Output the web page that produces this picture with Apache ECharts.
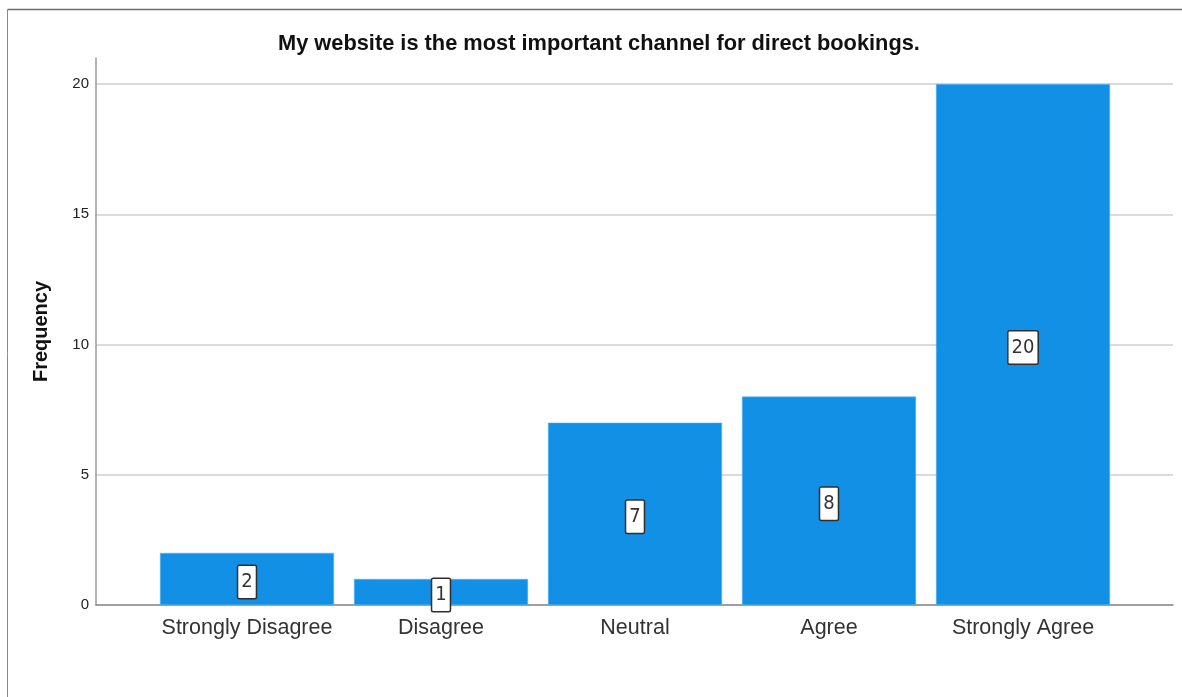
<!DOCTYPE html>
<html>
<head>
<meta charset="utf-8">
<script src="https://cdn.jsdelivr.net/npm/echarts@6/dist/echarts.min.js"></script>
<style>
  html, body { margin: 0; padding: 0; background: #fff; }
  #chart { width: 1182px; height: 697px; }
</style>
</head>
<body>
<div id="chart"></div>
<script>
// Survey responses
const chartTitle = 'My website is the most important channel for direct bookings.';
const categories = ['Strongly Disagree', 'Disagree', 'Neutral', 'Agree', 'Strongly Agree'];
const frequencies = [2, 1, 7, 8, 20];
const yTicks = [0, 5, 10, 15, 20];

const chart = echarts.init(document.getElementById('chart'), null, { renderer: 'canvas' });

const yMax = 21;
const yInterval = 5;

chart.setOption({
  animation: false,
  backgroundColor: '#ffffff',
  title: {
    text: chartTitle,
    left: 273,
    top: 28,
    textStyle: { fontFamily: 'Liberation Sans, Arial, sans-serif', fontSize: 21.8, fontWeight: 'bold', color: '#111' }
  },
  graphic: [
    { type: 'line', shape: { x1: 7.5, y1: 9.5, x2: 1182, y2: 9.5 }, style: { stroke: '#6e6e6e', lineWidth: 1.5 } },
    { type: 'line', shape: { x1: 7.5, y1: 9.5, x2: 7.5, y2: 697 }, style: { stroke: '#8a8a8a', lineWidth: 1 } }
  ],
  grid: [
    // frame grid: axis lines and gridlines across the full plot width
    { left: 96, right: 9, top: 58, bottom: 92 },
    // bar grid: category band inset from the frame
    { left: 150, width: 970, top: 58, bottom: 92 }
  ],
  xAxis: [
    {
      gridIndex: 0, type: 'value', min: 0, max: 1,
      axisLine: { show: true, lineStyle: { color: '#8c8c8c', width: 1.5 } },
      axisTick: { show: false }, axisLabel: { show: false }, splitLine: { show: false }
    },
    {
      gridIndex: 1, type: 'category', data: categories,
      axisLine: { show: false }, axisTick: { show: false },
      axisLabel: {
        interval: 0, margin: 12, fontSize: 21.5, color: '#333',
        fontFamily: 'Liberation Sans, Arial, sans-serif'
      }
    }
  ],
  yAxis: [
    {
      gridIndex: 0, type: 'value', min: 0, max: yMax, interval: yInterval,
      name: 'Frequency', nameLocation: 'middle', nameRotate: 90, nameGap: 45,
      nameTextStyle: { fontFamily: 'Liberation Sans, Arial, sans-serif', fontSize: 20, fontWeight: 'bold', color: '#111' },
      axisLine: { show: true, lineStyle: { color: '#9a9a9a', width: 1.5 } },
      axisTick: { show: false },
      axisLabel: {
        margin: 7, fontSize: 15, color: '#222', showMaxLabel: false,
        fontFamily: 'Liberation Sans, Arial, sans-serif',
        formatter: v => (yTicks.indexOf(v) >= 0 ? String(v) : '')
      },
      splitLine: { show: true, showMaxLine: false, lineStyle: { color: '#cfcfcf', width: 1.5 } }
    },
    {
      gridIndex: 1, type: 'value', min: 0, max: yMax, interval: yInterval,
      show: false, splitLine: { show: false }
    }
  ],
  series: [{
    type: 'bar',
    xAxisIndex: 1,
    yAxisIndex: 1,
    data: frequencies,
    barWidth: 174,
    itemStyle: { color: '#1290e6', borderColor: '#63b3ee', borderWidth: 0.5 },
    label: {
      show: true,
      position: 'inside',
      offset: [0, 3],
      fontFamily: 'Liberation Sans Narrow, DejaVu Sans Condensed, Arial Narrow, sans-serif',
      fontSize: 20,
      lineHeight: 22,
      color: '#333',
      backgroundColor: '#ffffff',
      borderColor: '#2e2e2e',
      borderWidth: 1.5,
      borderRadius: 1,
      padding: [5, 3]
    }
  }]
});
</script>
</body>
</html>
